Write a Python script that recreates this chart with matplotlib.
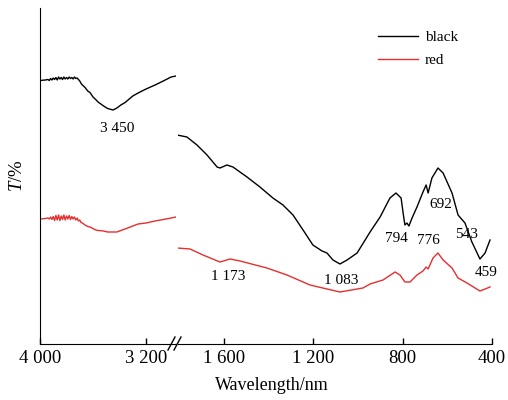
import matplotlib.pyplot as plt
from matplotlib.lines import Line2D

# wavenumber axis (labelled nm in the picture) and transmittance in arbitrary units
# high-wavenumber segment (4000 - 2974)
hi_wn = [4000, 3960, 3940, 3930, 3920, 3910, 3900, 3890, 3880, 3870, 3860, 3850, 3840, 3830,
         3820, 3810, 3800, 3790, 3780, 3770, 3760, 3750, 3740, 3730, 3720, 3710, 3700, 3690,
         3680, 3660, 3640, 3623, 3600, 3580, 3562, 3520, 3490, 3449, 3420, 3390, 3358, 3300,
         3260, 3200, 3132, 3070, 3011, 2974]
black_hi = [263.5, 264, 264.5, 263.5, 265.5, 264, 266, 264.5, 266.5, 264, 267, 265, 266.5, 264.5,
            267, 265, 266.5, 265, 267, 265.5, 266.5, 265, 267, 265.5, 266, 264.5, 263, 260.5,
            259, 256.5, 253, 251.5, 247, 244.5, 242, 238, 235.5, 234, 236, 239, 241.5, 248,
            251, 255, 259, 263, 267, 268]
red_hi = [125, 125.5, 126, 125, 127, 124.5, 127.5, 123.5, 128.5, 124, 129, 123.5, 128, 124.5,
          129, 124, 128, 125, 128.5, 124.5, 127.5, 125, 127, 124, 126, 123, 124, 121.5,
          121, 119, 117.5, 117, 115.5, 114, 113.5, 113, 112, 112, 112, 113.5, 115, 118,
          120, 121, 123, 124.5, 126, 127]

# low-wavenumber segment (1806 - 400)
lo_wn = [1810, 1766, 1721, 1676, 1631, 1618, 1587, 1560, 1497, 1439, 1381, 1336, 1291, 1246,
         1202, 1161, 1139, 1112, 1081, 1049, 1004, 946, 901, 857, 830, 807, 798, 790, 781,
         772, 758, 736, 709, 695, 686, 669, 642, 619, 579, 552, 521, 490, 454, 431, 409]
black_lo = [209, 207, 199, 189, 177, 176, 179, 177, 167, 157, 146, 139, 129, 114,
            99, 93, 91, 84, 80, 84, 91, 112, 127, 146, 151, 146, 131, 119, 121,
            118, 126, 137, 152, 159, 151, 166, 176, 171, 151, 129, 121, 102, 85, 91, 104]
red_lo_wn = [1810, 1752, 1694, 1618, 1573, 1528, 1408, 1318, 1215, 1081, 978, 946, 888, 834,
             812, 790, 767, 736, 709, 695, 686, 664, 642, 619, 579, 552, 512, 454, 431, 409]
red_lo = [96, 95, 89, 82, 85, 83, 76, 69, 59, 52, 56, 60, 64, 72,
          69, 62, 62, 69, 73, 77, 75, 86, 91, 84, 76, 66, 61, 53, 55, 57]

# peak labels: (text, wavenumber, T)
peak_labels = [("1 173", 1582, 67), ("1 083", 1076, 64), ("794", 830, 106),
               ("776", 686, 103), ("692", 628, 139), ("543", 516, 110), ("459", 427, 71)]

plt.rcParams['font.family'] = ['Liberation Serif', 'DejaVu Serif']
plt.rcParams['mathtext.fontset'] = 'custom'
plt.rcParams['mathtext.it'] = 'Liberation Serif:italic'
plt.rcParams['mathtext.rm'] = 'Liberation Serif'

black = '#000000'
red = '#e62e2e'
lw = 1.0

fig = plt.figure(figsize=(5.08, 4.0), dpi=100)
W, H = 508.0, 400.0
bottom = (400 - 344) / H
height = (344 - 8) / H
ax1 = fig.add_axes([40 / W, bottom, (176 - 40) / W, height])
ax2 = fig.add_axes([178 / W, bottom, (492 - 178) / W, height])

ax1.plot(hi_wn, black_hi, color=black, lw=lw)
ax1.plot(hi_wn, red_hi, color=red, lw=lw)
ax2.plot(lo_wn, black_lo, color=black, lw=lw)
ax2.plot(red_lo_wn, red_lo, color=red, lw=lw)

ax1.set_xlim(4000, 2974)
ax2.set_xlim(1806, 400)
for ax in (ax1, ax2):
    ax.set_ylim(0, 336)
    ax.set_yticks([])
    ax.spines['top'].set_visible(False)
    ax.spines['right'].set_visible(False)
    ax.tick_params(axis='x', direction='in', length=4, width=1, pad=4, labelsize=13.5)
    ax.patch.set_alpha(0)
ax2.spines['left'].set_visible(False)
ax1.set_xticks([4000, 3200])
ax1.set_xticklabels(["4 000", "3 200"])
ax2.set_xticks([1600, 1200, 800, 400])
ax2.set_xticklabels(["1 600", "1 200", "800", "400"])

ax1.text(3419, 216, "3 450", ha='center', va='center', fontsize=11)
for txt, x, y in peak_labels:
    ax2.text(x, y, txt, ha='center', va='center', fontsize=11)

# axis break marks
for x0 in (168, 174):
    fig.add_artist(Line2D([x0 / W, (x0 + 7) / W], [(400 - 350) / H, (400 - 337) / H],
                          color='black', lw=1))

fig.text(272 / W, (400 - 385) / H, "Wavelength/nm", ha='center', va='center', fontsize=13)
fig.text(18 / W, (400 - 176) / H, r"$T$/%", ha='center', va='center', rotation=90, fontsize=13.5)

ax2.legend([Line2D([], [], color=black, lw=lw), Line2D([], [], color=red, lw=lw)],
           ["black", "red"], loc='upper left',
           bbox_to_anchor=((378 - 178) / 314, 1 - (30.5 - 8) / 336),
           frameon=False, handlelength=2.6, handletextpad=0.45, borderpad=0,
           borderaxespad=0, fontsize=11, labelspacing=0.6)

fig.savefig("out.png", dpi=100)
